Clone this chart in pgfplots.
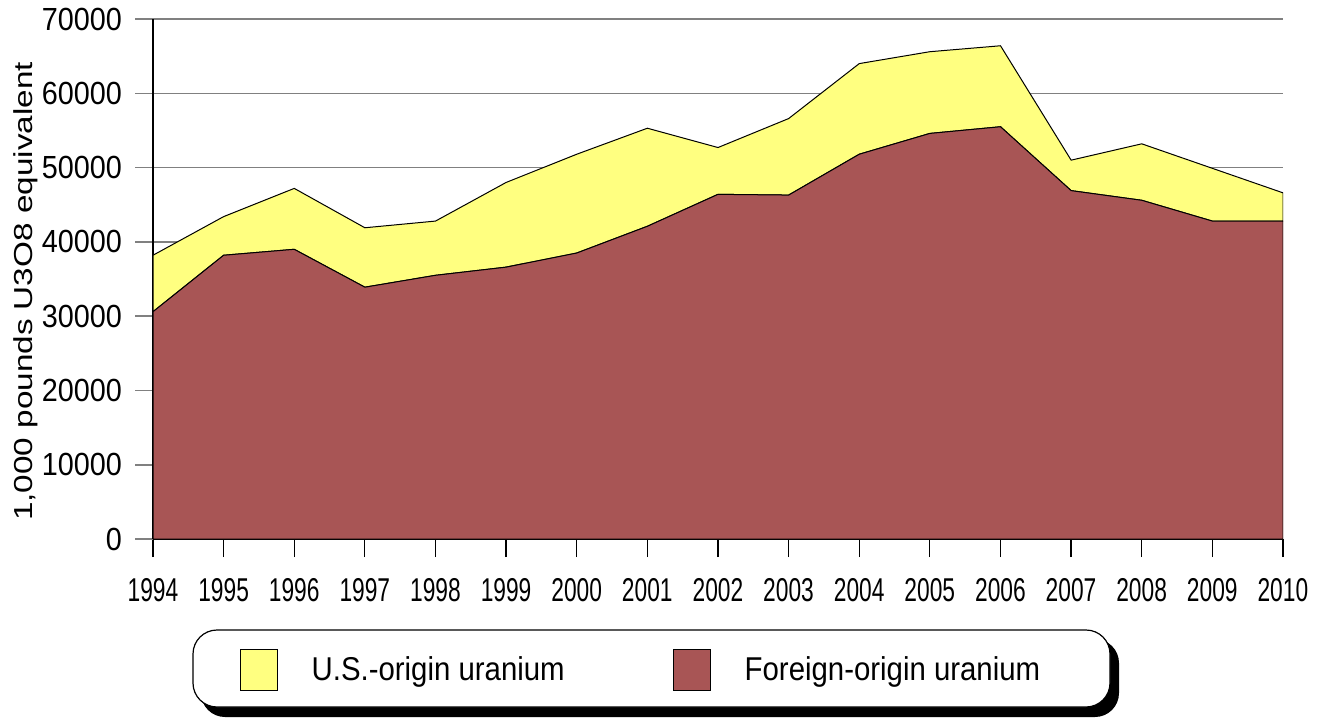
\documentclass[border=0pt]{standalone}
\usepackage{fontspec}
\setmainfont{Liberation Sans}
\newfontfamily\xfont{Liberation Sans}[FakeStretch=0.69]
\newfontfamily\tfont{Liberation Sans}[FakeStretch=0.9]
\newfontfamily\yfont{Liberation Sans}[FakeStretch=1.28]
\newfontfamily\lfont{Liberation Sans}[FakeStretch=0.89]
\usepackage{pgfplots}
\pgfplotsset{compat=1.18}
\definecolor{usy}{RGB}{255,255,128}
\definecolor{fred}{RGB}{168,85,85}
\begin{document}
\begin{tikzpicture}
\path[use as bounding box] (-76.5pt,-90pt) rectangle (589pt,269.5pt);
\fill[black, rounded corners=12pt] (24pt,-50pt) rectangle (483pt,-89pt);
\draw[black, line width=0.6pt, fill=white, rounded corners=12pt] (20pt,-45.5pt) rectangle (478.5pt,-84pt);
\begin{axis}[
 at={(0,0)}, anchor=south west, scale only axis, width=565pt, height=260pt,
 xmin=1994, xmax=2010, ymin=0, ymax=70000,
 axis lines=left, axis line style={-, black, line width=0.6pt},
 xtick={1994,...,2010}, ytick={0,10000,...,70000},
 tick align=outside, major tick length=9pt,
 xtick style={black, line width=0.6pt},
 ytick style={gray, line width=0.8pt},
 ymajorgrids, grid style={gray, line width=0.8pt},
 scaled y ticks=false,
 /pgf/number format/1000 sep={}, /pgf/number format/assume math mode=true,
 yticklabel style={font=\tfont\fontsize{16pt}{19pt}\selectfont, xshift=-3pt},
 xticklabel style={font=\xfont\fontsize{16.5pt}{20pt}\selectfont, yshift=-7pt},
 ylabel={1,000 pounds U3O8 equivalent},
 ylabel style={font=\yfont\fontsize{13pt}{16pt}\selectfont, at={(axis description cs:-0.1124,0.476)}, anchor=center},
 stack plots=y,
 legend style={at={(axis description cs:0.4327,-0.252)}, anchor=center, draw=none, fill=none, legend columns=2, font=\lfont\fontsize{16.5pt}{20pt}\selectfont,
   /tikz/every odd column/.append style={column sep=15pt},
   /tikz/every even column/.append style={column sep=52pt}},
 legend image code/.code={\draw[#1] (0pt,-10.25pt) rectangle (18.5pt,10.25pt);},
]
\addlegendimage{fill=usy, draw=black, line width=0.5pt}
\addlegendentry{U.S.-origin uranium}
\addlegendimage{fill=fred, draw=black, line width=0.5pt}
\addlegendentry{Foreign-origin uranium}
\addplot[fill=fred, draw=black, line width=0.5pt, forget plot] coordinates {
(1994,30600) (1995,38200) (1996,39000) (1997,33900) (1998,35500) (1999,36600)
(2000,38500) (2001,42100) (2002,46400) (2003,46300) (2004,51800) (2005,54600)
(2006,55500) (2007,46900) (2008,45600) (2009,42800) (2010,42800)} \closedcycle;
\addplot[fill=usy, draw=black, line width=0.5pt, forget plot] coordinates {
(1994,7600) (1995,5200) (1996,8200) (1997,8000) (1998,7300) (1999,11400)
(2000,13300) (2001,13200) (2002,6300) (2003,10300) (2004,12200) (2005,11000)
(2006,10900) (2007,4100) (2008,7600) (2009,7100) (2010,3800)} \closedcycle;
\end{axis}
\end{tikzpicture}
\end{document}
